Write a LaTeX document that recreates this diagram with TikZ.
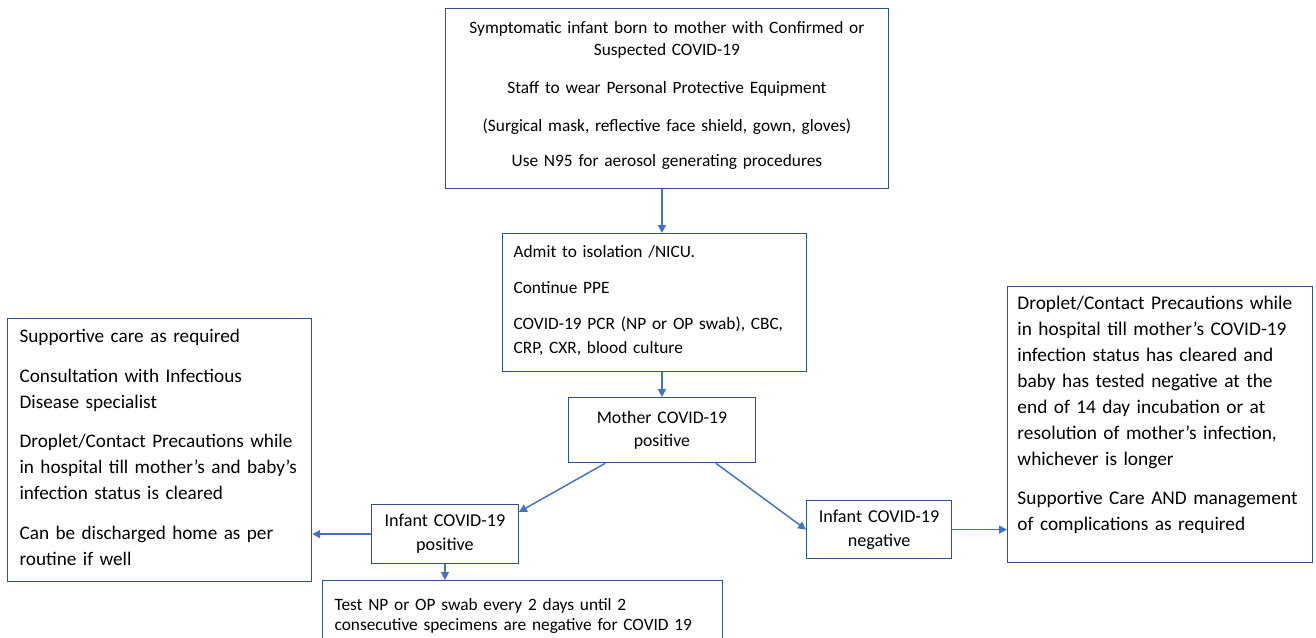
\documentclass[tikz,border=0pt]{standalone}
\usepackage{fontspec}
\setmainfont{Carlito}
\usetikzlibrary{arrows.meta}

\definecolor{boxblue}{HTML}{2F528F}
\definecolor{arrowblue}{HTML}{4472C4}

\newcommand{\lsp}[2]{\fontsize{#1}{#2}\selectfont\hyphenpenalty=10000 }
\newcommand{\padbelow}[1]{\rule[-#1]{0pt}{0pt}}

\tikzset{
  flowbox/.style={draw=boxblue, line width=0.9pt, anchor=north west, inner ysep=0pt, text=black},
  lbox/.style={flowbox, align=left},
  cbox/.style={flowbox, align=center},
  flowarrow/.style={draw=arrowblue, line width=1.1pt, -{Triangle[length=6pt,width=6pt]}},
}

\begin{document}
\begin{tikzpicture}[x=0.75pt, y=-0.75pt]

  % Canvas
  \clip (0,0) rectangle (1316,637);

  % Define nodes
  \node[cbox, font=\lsp{13pt}{16.5pt}, inner xsep=6pt, text width=320pt, minimum height=135pt]
    (symptom) at (445,8)
    {Symptomatic infant born to mother with Confirmed or\\ Suspected COVID-19\\[12pt]
     Staff to wear Personal Protective Equipment\\[12pt]
     (Surgical mask, reflective face shield, gown, gloves)\\[10pt]
     Use N95 for aerosol generating procedures\padbelow{7pt}};
  \node[lbox, font=\lsp{13pt}{18pt}, inner xsep=8.25pt, text width=211.5pt, minimum height=103.5pt]
    (admit) at (502,233)
    {Admit to isolation /NICU.\\[9pt]
     Continue PPE\\[9pt]
     COVID-19 PCR (NP or OP swab), CBC,\\ CRP, CXR, blood culture\padbelow{5pt}};
  \node[cbox, font=\lsp{13.3pt}{17pt}, inner xsep=3pt, text width=134pt, minimum height=48.75pt]
    (mother) at (568,397)
    {Mother COVID-19\\ positive};
  \node[cbox, font=\lsp{13.6pt}{18pt}, inner xsep=3pt, text width=104pt, minimum height=44.25pt]
    (infpos) at (371,504)
    {Infant COVID-19\\ positive};
  \node[cbox, font=\lsp{13.6pt}{18pt}, inner xsep=3pt, text width=102.75pt, minimum height=43.5pt]
    (infneg) at (806,500)
    {Infant COVID-19\\ negative};
  \node[lbox, font=\lsp{14.4pt}{19.6pt}, inner xsep=9pt, text width=210pt, minimum height=197.25pt]
    (poscare) at (7,318)
    {Supportive care as required\\[10pt]
     Consultation with Infectious\\ Disease specialist\\[10pt]
     Droplet/Contact Precautions while\\ in hospital till mother’s and baby’s\\ infection status is cleared\\[10pt]
     Can be discharged home as per\\ routine if well\padbelow{4pt}};
  \node[lbox, font=\lsp{14.5pt}{19.5pt}, inner xsep=7.4pt, text width=214pt, minimum height=207pt]
    (negcare) at (1007,286)
    {Droplet/Contact Precautions while\\ in hospital till mother’s COVID-19\\ infection status has cleared and\\
     baby has tested negative at the\\ end of 14 day incubation or at\\ resolution of mother’s infection,\\
     whichever is longer\\[10pt]
     Supportive Care AND management\\ of complications as required\padbelow{16.5pt}};
  \node[lbox, font=\lsp{13pt}{15pt}, inner xsep=9pt, text width=282pt, minimum height=52.5pt]
    (retest) at (322,580)
    {Test NP or OP swab every 2 days until 2\\ consecutive specimens are negative for COVID 19};

  % Connect the nodes
  \draw[flowarrow] (symptom.south -| mother.north) -- (admit.north -| mother.north);
  \draw[flowarrow] (admit.south -| mother.north) -- (mother.north);
  \draw[flowarrow] ([xshift=28pt]mother.south west) -- ([yshift=-6pt]infpos.north east);
  \draw[flowarrow] ([xshift=-30pt]mother.south east) -- (infneg.west);
  \draw[flowarrow] (infpos.west) -- (infpos.west -| poscare.east);
  \draw[flowarrow] (infneg.east) -- (infneg.east -| negcare.west);
  \draw[flowarrow] (infpos.south) -- (infpos.south |- retest.north);

\end{tikzpicture}
\end{document}
